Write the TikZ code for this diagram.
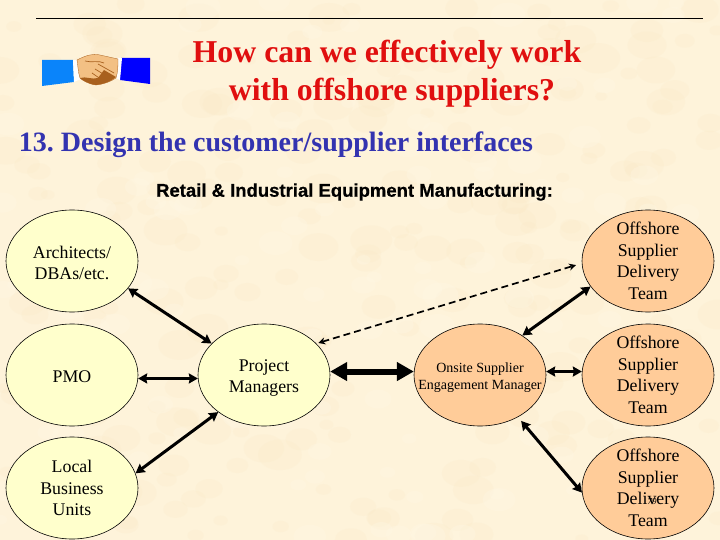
\documentclass[tikz,border=0pt]{standalone}
\usepackage{fontspec}
\setmainfont{Liberation Serif}
\newfontfamily\retailfont[FakeBold=0.6]{Liberation Sans Bold}
\usetikzlibrary{arrows.meta,shapes.geometric}
\definecolor{paper}{HTML}{FEF3DA}
\definecolor{blotch}{HTML}{FBE9C6}
\definecolor{glow}{HTML}{FFF8E6}
\definecolor{lemon}{HTML}{FFFFCC}
\definecolor{peach}{HTML}{FFCC99}
\definecolor{titlered}{HTML}{E00F0F}
\definecolor{subblue}{HTML}{3333B0}
\definecolor{armblue}{HTML}{0A84FA}
\definecolor{skin}{HTML}{F3C084}
\definecolor{skindark}{HTML}{A8601E}
\newcommand{\dnshift}[1]{\rule{0pt}{#1pt}}
\frenchspacing
\tikzset{
  bub/.style={draw=black,line width=0.6pt,ellipse,minimum width=132pt,minimum height=102pt,inner sep=-30pt,align=center,font=\fontsize{17.8}{21.6}\selectfont},
  yel/.style={bub,fill=lemon},
  pch/.style={bub,fill=peach},
  link/.style={line width=3pt,draw=black,{Stealth[length=9pt,width=10pt,inset=1pt]}-{Stealth[length=9pt,width=10pt,inset=1pt]}},
  heavy/.style={line width=6pt,draw=black,{Stealth[length=17pt,width=18pt,inset=0pt]}-{Stealth[length=17pt,width=18pt,inset=0pt]}},
  dashlink/.style={line width=1.7pt,draw=black,dash pattern=on 7pt off 4pt,{Stealth[length=7pt,width=7pt]}-{Stealth[length=7pt,width=7pt]}},
  ttl/.style={text=titlered,font=\fontsize{31.8}{38}\selectfont\bfseries,align=center,inner sep=0pt}
}
\begin{document}
\begin{tikzpicture}[x=1pt,y=-1pt]
\useasboundingbox (0,0) rectangle (720,540);
\fill[paper] (0,0) rectangle (720,540);
\pgfmathsetseed{7}
\foreach \i in {1,...,260}{
  \pgfmathsetmacro{\bx}{720*rnd}
  \pgfmathsetmacro{\by}{540*rnd}
  \pgfmathsetmacro{\br}{6+16*rnd}
  \fill[blotch,opacity=0.22] (\bx,\by) ellipse ({\br pt} and {0.7*\br pt});
}
\foreach \i in {1,...,120}{
  \pgfmathsetmacro{\bx}{720*rnd}
  \pgfmathsetmacro{\by}{540*rnd}
  \pgfmathsetmacro{\br}{6+12*rnd}
  \fill[glow,opacity=0.3] (\bx,\by) ellipse ({\br pt} and {0.7*\br pt});
}
\coordinate (ruleL) at (36,18);
\coordinate (ruleR) at (703,18);
\draw[line width=0.8pt] (ruleL) -- (ruleR);
% handshake
\fill[armblue] (42,60) -- (73,60) -- (74,82) -- (42,86) -- cycle;
\fill[blue] (121,58) -- (150,58) -- (150,84) -- (120,80) -- cycle;
\fill[white] (73,60) -- (78,60) -- (81,79) -- (74,82) -- cycle;
\fill[white] (117,58) -- (122,58) -- (120,80) -- (116,78) -- cycle;
\fill[skin,draw=skindark,line width=0.3pt] (77,60) .. controls (85,56) and (92,53) .. (100,55) -- (118,59) .. controls (118,66) and (118,72) .. (116,78) .. controls (110,82) and (104,84) .. (96,85) .. controls (88,84) and (82,80) .. (80,78) .. controls (78,72) and (78,66) .. (77,60) -- cycle;
\fill[skindark] (80,78) .. controls (86,76) and (92,80) .. (98,78) -- (104,70) -- (116,77) .. controls (110,82) and (104,84) .. (96,85) .. controls (88,84) and (82,80) .. (80,78) -- cycle;
\draw[skindark,line width=0.7pt] (85,61) .. controls (92,63) and (98,60) .. (104,63) (98,64) -- (114,73) (95,69) -- (108,77) (92,73) -- (102,80);
% titles
\node[ttl] (title) at (389.5,74) {How can we effectively work\hspace*{5pt}\\\hspace*{5pt}with offshore suppliers?};
\node[text=subblue,font=\fontsize{28}{32}\selectfont\bfseries,inner sep=0pt] (sub) at (276,145) {13. Design the customer/supplier interfaces};
\node[font=\fontsize{18.5}{22}\selectfont\retailfont,inner sep=0pt] (retail) at (354.5,192) {Retail \& Industrial Equipment Manufacturing:};
% bubbles
\node[yel] (arch) at (72,261) {\dnshift{16}Architects/\\DBAs/etc.};
\node[yel] (pmo) at (72,375) {\dnshift{16}PMO};
\node[yel] (lbu) at (72,488) {Local\\Business\\Units};
\node[yel] (pm) at (264,375) {\dnshift{18}Project\\Managers};
\node[pch,font=\fontsize{14}{17.5}\selectfont] (onsite) at (480,375) {\dnshift{15}Onsite Supplier\\Engagement Manager};
\node[pch] (off1) at (648,261) {Offshore\\Supplier\\Delivery\\Team};
\node[pch] (off2) at (648,375) {Offshore\\Supplier\\Delivery\\Team};
\node[pch] (off3) at (648,488) {Offshore\\Supplier\\Delivery\\Team};
\node[font=\fontsize{9}{10}\selectfont\itshape,inner sep=0pt] (pg) at (652,502) {79};
% connectors
\draw[link] (arch.-26) -- (pm.149);
\draw[link] (pmo.-3) -- (pm.183);
\draw[link] (lbu.13) -- (pm.-141);
\draw[heavy] (pm.3) -- (onsite.177);
\draw[dashlink,shorten <=2pt,shorten >=6pt] (pm.31) -- (off1.182);
\draw[link] (onsite.43) -- (off1.-156);
\draw[link] (onsite.3) -- (off2.177);
\draw[link,shorten <=5pt] (onsite.-48) -- (off3.184);
\end{tikzpicture}
\end{document}
